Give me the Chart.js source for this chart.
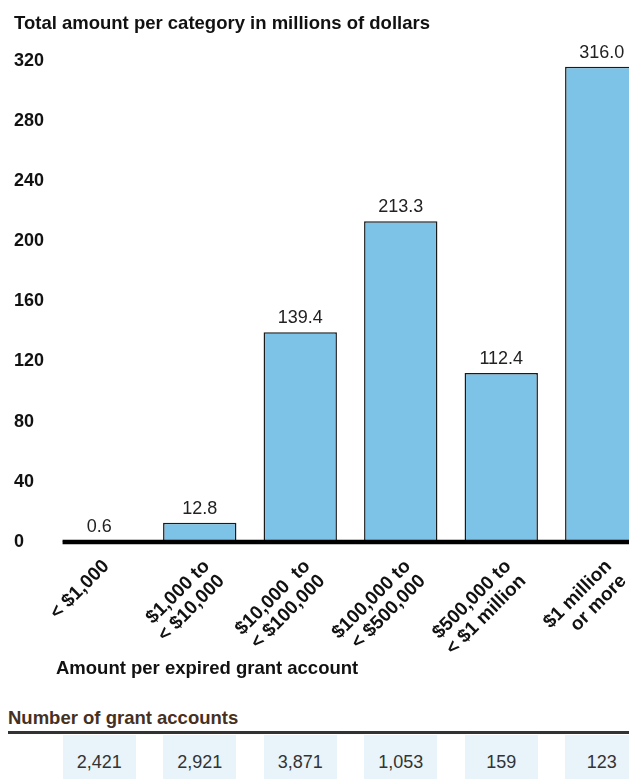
<!DOCTYPE html>
<html>
<head>
<meta charset="utf-8">
<script src="https://cdn.jsdelivr.net/npm/chart.js@4.4.1/dist/chart.umd.min.js"></script>
<style>
  html, body { margin: 0; padding: 0; background: #fff; }
  body { width: 629px; height: 779px; position: relative; overflow: hidden; font-family: "Liberation Sans", Arial, sans-serif; }
  #wrap { position: absolute; left: 0; top: 0; width: 652px; height: 700px; }
  .note { position: absolute; font-weight: bold; font-size: 18.5px; white-space: nowrap; line-height: 1; }
  #xTitle { left: 56px; top: 659px; color: #111; }
  #countTitle { left: 8px; top: 709px; color: #46301f; }
  #countRule { position: absolute; left: 8px; top: 731px; width: 660px; height: 3px; background: #333; }
  .cell { position: absolute; top: 735px; height: 44px; background: #e8f3fa; color: #333; font-size: 18px; text-align: center; line-height: 54px; }
</style>
</head>
<body>
<div id="wrap"><canvas id="grantChart"></canvas></div>
<div class="note" id="xTitle">Amount per expired grant account</div>
<div class="note" id="countTitle">Number of grant accounts</div>
<div id="countRule"></div>
<script>
// amount bands (two-line tick labels), totals in $ millions, account counts
const categories = [
    "< $1,000",
    ["$1,000 to", "< $10,000"],
    ["$10,000  to", "< $100,000"],
    ["$100,000 to", "< $500,000"],
    ["$500,000 to", "< $1 million"],
    ["$1 million", "or more"]
];
const totals = [0.6, 12.8, 139.4, 213.3, 112.4, 316.0];
const accounts = [2421, 2921, 3871, 1053, 159, 123];
const yMax = 320;
const yStep = 40;

const FONT = '"Liberation Sans", Arial, sans-serif';
Chart.defaults.font.family = FONT;

// value labels over the bars + heavy zero line starting at the first bar
const barExtras = {
    id: "barExtras",
    afterDatasetsDraw(chart) {
        const ctx = chart.ctx;
        const bars = chart.getDatasetMeta(0).data;
        const y0 = chart.scales.y.getPixelForValue(0);
        ctx.save();
        ctx.fillStyle = "#222";
        ctx.font = "18px " + FONT;
        ctx.textAlign = "center";
        ctx.textBaseline = "alphabetic";
        bars.forEach((b, i) => ctx.fillText(totals[i].toFixed(1), b.x, b.y - 9));
        ctx.strokeStyle = "#000";
        ctx.lineWidth = 4.5;
        ctx.beginPath();
        ctx.moveTo(bars[0].x - bars[0].width / 2, y0);
        ctx.lineTo(chart.width, y0);
        ctx.stroke();
        ctx.restore();
    }
};

const chart = new Chart(document.getElementById("grantChart"), {
    type: "bar",
    data: {
        labels: categories,
        datasets: [{
            data: totals,
            backgroundColor: "#7dc3e7",
            borderColor: "#1a1a1a",
            borderWidth: 1.5,
            barPercentage: 0.73,
            categoryPercentage: 1.0
        }]
    },
    options: {
        responsive: true,
        maintainAspectRatio: false,
        animation: false,
        layout: { padding: { left: 14, top: 0, right: 0, bottom: 0 } },
        plugins: {
            legend: { display: false },
            tooltip: { enabled: false },
            title: {
                display: true,
                text: "Total amount per category in millions of dollars",
                align: "start",
                color: "#111",
                font: { size: 18.5, weight: "bold" },
                padding: { top: 13, bottom: 25.5 }
            }
        },
        scales: {
            x: {
                grid: { display: false, drawTicks: false },
                border: { display: false },
                ticks: {
                    color: "#111",
                    font: { size: 19, weight: "bold", lineHeight: 1.1 },
                    maxRotation: 45,
                    minRotation: 45,
                    autoSkip: false,
                    padding: 14,
                    labelOffset: 7
                },
                // tall enough that the rotated labels aren't clipped
                afterFit(scale) { scale.height = 158; }
            },
            y: {
                min: 0,
                max: yMax,
                grid: { display: false, drawTicks: false },
                border: { display: false },
                ticks: {
                    stepSize: yStep,
                    color: "#111",
                    crossAlign: "far",
                    font: { size: 18, weight: "bold" }
                },
                afterFit(scale) { scale.width = 35; }
            }
        }
    },
    plugins: [barExtras]
});

// count row, one shaded cell under each bar
const bars = chart.getDatasetMeta(0).data;
accounts.forEach((n, i) => {
    const cell = document.createElement("div");
    cell.className = "cell";
    cell.style.left = (bars[i].x - bars[i].width / 2) + "px";
    cell.style.width = bars[i].width + "px";
    cell.textContent = n.toLocaleString("en-US");
    document.body.appendChild(cell);
});
</script>
</body>
</html>
